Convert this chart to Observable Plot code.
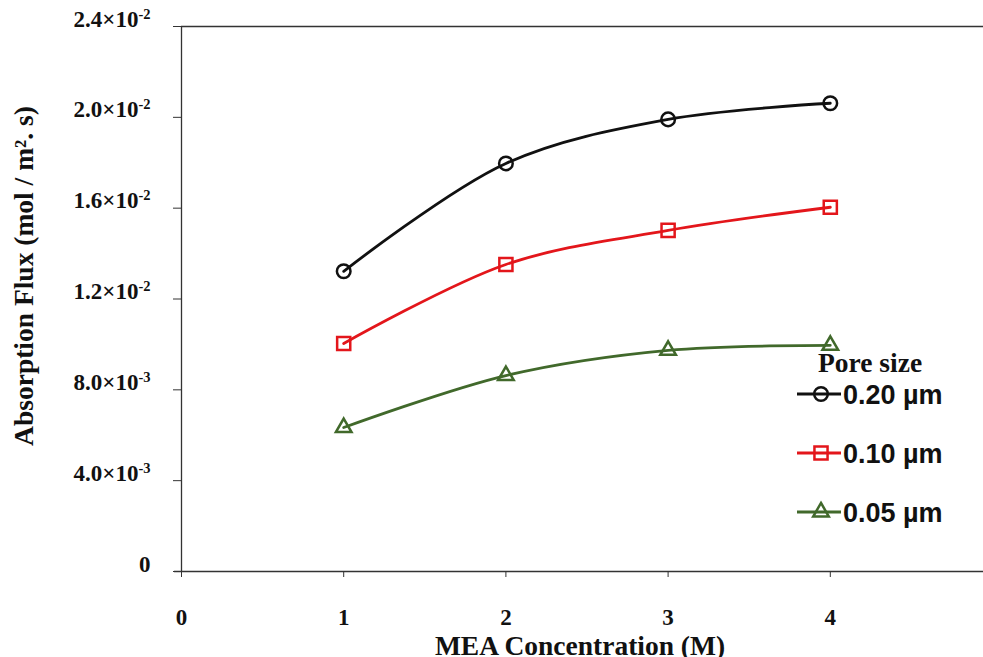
<!DOCTYPE html>
<html>
<head>
<meta charset="utf-8">
<script src="https://cdn.jsdelivr.net/npm/d3@7"></script>
<script src="https://cdn.jsdelivr.net/npm/@observablehq/plot@0.6"></script>
<style>
  html, body { margin: 0; padding: 0; background: #fff; overflow: hidden; }
  #chart { position: relative; width: 983px; height: 657px; }
  #chart > svg { display: block; }
  #legend { position: absolute; left: 0; top: 0; pointer-events: none; }
</style>
</head>
<body>
<div id="chart"></div>
<script>
// MEA concentration (M)
const concentrations = [1, 2, 3, 4];

// Absorption flux (mol / m².s) for each membrane pore size
const flux020 = [0.01322, 0.01797, 0.01991, 0.02062];
const flux010 = [0.01004, 0.01352, 0.01502, 0.01604];
const flux005 = [0.00634, 0.00863, 0.00974, 0.00996];

const poreSizes = ["0.20 µm", "0.10 µm", "0.05 µm"];
const seriesColors = ["#111111", "#e3161b", "#41692b"];
const seriesSymbols = ["circle", "square", "triangle"];

// Axis ticks
const xTicks = [0, 1, 2, 3, 4, 5];
const yTicks = [0, 0.004, 0.008, 0.012, 0.016, 0.020, 0.024];
const yTickMantissas = ["0", "4.0×10", "8.0×10", "1.2×10", "1.6×10", "2.0×10", "2.4×10"];
const yTickExponents = ["", "-3", "-3", "-2", "-2", "-2", "-2"];

const xTitle = "MEA Concentration (M)";
const yTitle = "Absorption Flux (mol / m². s)";
const legendTitle = "Pore size";

// Long-format table: one row per (pore size, concentration)
const fluxBySeries = [flux020, flux010, flux005];
const rows = fluxBySeries.flatMap((vals, s) =>
  concentrations.map((c, i) => ({pore: poreSizes[s], conc: c, flux: vals[i]}))
);

const serif = "'Liberation Serif', 'Times New Roman', serif";
const sans = "'Liberation Sans', Arial, sans-serif";
const axisColor = "#333";
const markerR = {circle: 6.8, square: 7.4, triangle: 5.8};

const seriesMarks = poreSizes.flatMap((p, s) => {
  const data = rows.filter(d => d.pore === p);
  return [
    Plot.line(data, {x: "conc", y: "flux", stroke: seriesColors[s], strokeWidth: 2.8, curve: "catmull-rom"}),
    Plot.dot(data, {x: "conc", y: "flux", symbol: seriesSymbols[s], r: markerR[seriesSymbols[s]],
      stroke: seriesColors[s], strokeWidth: 2.5, fill: "none"})
  ];
});

const plot = Plot.plot({
  width: 983,
  height: 657,
  marginLeft: 181,
  marginTop: 26,
  marginBottom: 86,
  marginRight: -9,
  style: {fontFamily: serif, fontWeight: "bold", background: "transparent", color: "#111"},
  x: {domain: [0, 5]},
  y: {domain: [0, 0.024]},
  marks: [
    Plot.ruleY([0.024], {stroke: axisColor, strokeWidth: 1.3}),
    Plot.ruleX([0], {stroke: axisColor, strokeWidth: 1.3}),
    Plot.ruleY([0], {stroke: axisColor, strokeWidth: 1.3, insetLeft: -7}),
    Plot.axisY({
      ticks: yTicks, tickSize: 8, tickPadding: 23, fontSize: 23, label: null, stroke: axisColor,
      lineAnchor: "bottom",
      tickFormat: v => {
        const i = yTicks.indexOf(v);
        return yTickExponents[i] ? `${yTickMantissas[i]}|${yTickExponents[i]}` : yTickMantissas[i];
      }
    }),
    Plot.axisX({
      ticks: xTicks, tickSize: 6, tickPadding: 31, fontSize: 23, label: null, stroke: axisColor,
      tickFormat: d => String(d)
    }),
    ...seriesMarks,
    Plot.text([xTitle], {frameAnchor: "bottom", dx: -7, dy: 75, fontSize: 27.5, fontWeight: "bold", lineAnchor: "middle", textAnchor: "middle"}),
    Plot.text([yTitle], {frameAnchor: "left", rotate: -90, dx: -157, dy: -23, fontSize: 27.5, fontWeight: "bold", lineAnchor: "middle", textAnchor: "middle"})
  ]
});

// Exponents of the y tick labels as raised, smaller text
d3.select(plot).selectAll('g[aria-label="y-axis tick label"] text').each(function () {
  const [m, e] = this.textContent.split("|");
  const t = d3.select(this);
  t.text(m);
  if (e) t.append("tspan").attr("dy", -8).attr("font-size", 14.5).text(e);
});

const chart = document.getElementById("chart");
chart.appendChild(plot);

// Legend: line sample with marker, then the pore size
const legend = d3.create("svg")
  .attr("id", "legend")
  .attr("width", 983)
  .attr("height", 657);

legend.append("text")
  .attr("x", 818).attr("y", 372)
  .attr("font-family", serif).attr("font-weight", "bold").attr("font-size", 27.5)
  .attr("fill", "#111")
  .text(legendTitle);

const symbolTypes = {circle: d3.symbolCircle, square: d3.symbolSquare, triangle: d3.symbolTriangle};
poreSizes.forEach((p, s) => {
  const cy = 394 + s * 59;
  const g = legend.append("g");
  g.append("line")
    .attr("x1", 797).attr("x2", 841).attr("y1", cy).attr("y2", cy)
    .attr("stroke", seriesColors[s]).attr("stroke-width", 2.8);
  const r = markerR[seriesSymbols[s]];
  g.append("path")
    .attr("transform", `translate(821,${cy})`)
    .attr("d", d3.symbol(symbolTypes[seriesSymbols[s]], Math.PI * r * r)())
    .attr("fill", "none").attr("stroke", seriesColors[s]).attr("stroke-width", 2.5);
  g.append("text")
    .attr("x", 843).attr("y", cy + 9.5)
    .attr("font-family", sans).attr("font-weight", "bold").attr("font-size", 27)
    .attr("fill", "#111")
    .text(p);
});

chart.appendChild(legend.node());
</script>
</body>
</html>
